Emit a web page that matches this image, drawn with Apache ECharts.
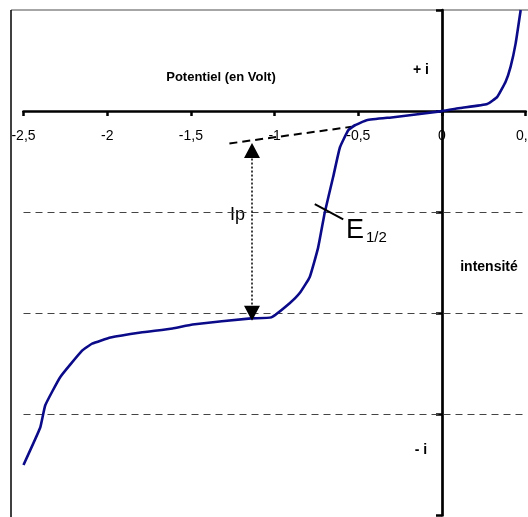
<!DOCTYPE html>
<html>
<head>
<meta charset="utf-8">
<script src="https://cdn.jsdelivr.net/npm/echarts@6/dist/echarts.min.js"></script>
<style>
  html, body { margin: 0; padding: 0; background: #fff; }
  #chart { width: 528px; height: 517px; }
</style>
</head>
<body>
<div id="chart"></div>
<script>
// Polarogram: current vs. potential (V)
const potential = [-2.50, -2.40, -2.37, -2.28, -2.15, -2.09, -1.98, -1.80, -1.61, -1.49,
                   -1.14, -1.02, -0.91, -0.85, -0.79, -0.74, -0.70, -0.65, -0.61, -0.56,
                   -0.52, -0.45, -0.29, 0.00, 0.11, 0.27, 0.33, 0.38, 0.41, 0.44, 0.47];
const current = [-3.50, -3.13, -2.91, -2.63, -2.37, -2.30, -2.24, -2.19, -2.15, -2.11,
                 -2.05, -2.04, -1.90, -1.80, -1.64, -1.35, -1.00, -0.65, -0.36, -0.19,
                 -0.14, -0.09, -0.06, 0.00, 0.03, 0.07, 0.14, 0.29, 0.44, 0.67, 1.00];

// residual-current extrapolation (tangent)
const tangentX = [-1.27, -0.54];
const tangentY = [-0.32, -0.155];

// limiting current Ip (double arrow)
const ipX = [-1.135, -1.135];
const ipY = [-0.39, -2.00];

// half-wave potential marker
const halfX = [-0.76, -0.59];
const halfY = [-0.92, -1.07];

// horizontal reference levels
const levels = [-1, -2, -3];

const xTicks = { min: -2.5, max: 0.5, step: 0.5 };
const yTicks = { min: -4, max: 1, step: 1 };

const FONT = '"Liberation Sans", Arial, sans-serif';
const zip = (a, b) => a.map((v, i) => [v, b[i]]);

const W = 528, H = 517;
const gridBox = { left: 23.5, right: 2.3, top: 10, bottom: 1.5 };
const plotH = H - gridBox.top - gridBox.bottom;
// lift the potential axis from the bottom edge up to current = 0
const xAxisOffset = -plotH * (0 - yTicks.min) / (yTicks.max - yTicks.min);

const chart = echarts.init(document.getElementById('chart'));
chart.setOption({
  animation: false,
  backgroundColor: '#fff',
  grid: Object.assign({ containLabel: false, outerBoundsMode: 'none' }, gridBox),
  xAxis: {
    type: 'value',
    position: 'bottom',
    offset: xAxisOffset,
    min: xTicks.min, max: xTicks.max, interval: xTicks.step,
    axisLine: { onZero: false, lineStyle: { color: '#000', width: 2.7 } },
    axisTick: { show: true, length: 5, lineStyle: { color: '#000', width: 2.5 } },
    splitLine: { show: false },
    axisLabel: {
      margin: 18, color: '#000', fontSize: 14, fontFamily: FONT,
      showMinLabel: true, showMaxLabel: true, hideOverlap: false,
      formatter: v => String(v).replace('.', ',')
    }
  },
  yAxis: {
    type: 'value',
    min: yTicks.min, max: yTicks.max, interval: yTicks.step,
    axisLine: { onZero: true, lineStyle: { color: '#000', width: 2.7 } },
    axisTick: { show: true, length: 6, lineStyle: { color: '#000', width: 2.5 } },
    splitLine: { show: false },
    axisLabel: { show: false }
  },
  series: [
    {
      type: 'line',
      data: zip(potential, current),
      showSymbol: false,
      smooth: 0.12,
      lineStyle: { color: '#0b0b8a', width: 2.6, join: 'round' },
      z: 5,
      markLine: {
        silent: true,
        symbol: ['none', 'none'],
        label: { show: false },
        lineStyle: { color: '#444', width: 1, type: [7, 5] },
        data: levels.map(v => ({ yAxis: v }))
      }
    },
    {
      type: 'line',
      data: zip(tangentX, tangentY),
      showSymbol: false,
      lineStyle: { color: '#000', width: 2, type: [8, 5] },
      z: 4
    },
    {
      type: 'line',
      data: [
        { value: [ipX[0], ipY[0]], symbolRotate: 0 },
        { value: [ipX[1], ipY[1]], symbolRotate: 180 }
      ],
      symbol: 'triangle',
      symbolSize: [16, 15],
      showSymbol: true,
      itemStyle: { color: '#000' },
      lineStyle: { color: '#000', width: 1.5, type: [2, 2] },
      z: 6
    },
    {
      type: 'line',
      data: zip(halfX, halfY),
      showSymbol: false,
      lineStyle: { color: '#000', width: 2 },
      z: 6
    }
  ],
  graphic: [
    { type: 'line', shape: { x1: 11, y1: 10, x2: 11, y2: 517 }, style: { stroke: '#000', lineWidth: 1.5 } },
    { type: 'line', shape: { x1: 11, y1: 10, x2: 528, y2: 10 }, style: { stroke: '#888', lineWidth: 1.5 }, z: -1 },
    { type: 'text', x: 221, y: 77, style: { text: 'Potentiel (en Volt)', font: 'bold 13px ' + FONT, fill: '#000', align: 'center', verticalAlign: 'middle' } },
    { type: 'text', x: 421, y: 70, style: { text: '+ i', font: 'bold 14px ' + FONT, fill: '#000', align: 'center', verticalAlign: 'middle' } },
    { type: 'text', x: 421, y: 450, style: { text: '- i', font: 'bold 14px ' + FONT, fill: '#000', align: 'center', verticalAlign: 'middle' } },
    { type: 'text', x: 489, y: 267, style: { text: 'intensité', font: 'bold 14px ' + FONT, fill: '#000', align: 'center', verticalAlign: 'middle' } },
    { type: 'text', x: 230, y: 215, style: { text: 'Ip', font: '18px ' + FONT, fill: '#000', align: 'left', verticalAlign: 'middle' } },
    { type: 'text', x: 346, y: 231, style: { text: 'E', font: '27px ' + FONT, fill: '#000', align: 'left', verticalAlign: 'middle' } },
    { type: 'text', x: 366, y: 238, style: { text: '1/2', font: '15px ' + FONT, fill: '#000', align: 'left', verticalAlign: 'middle' } }
  ]
});
</script>
</body>
</html>
